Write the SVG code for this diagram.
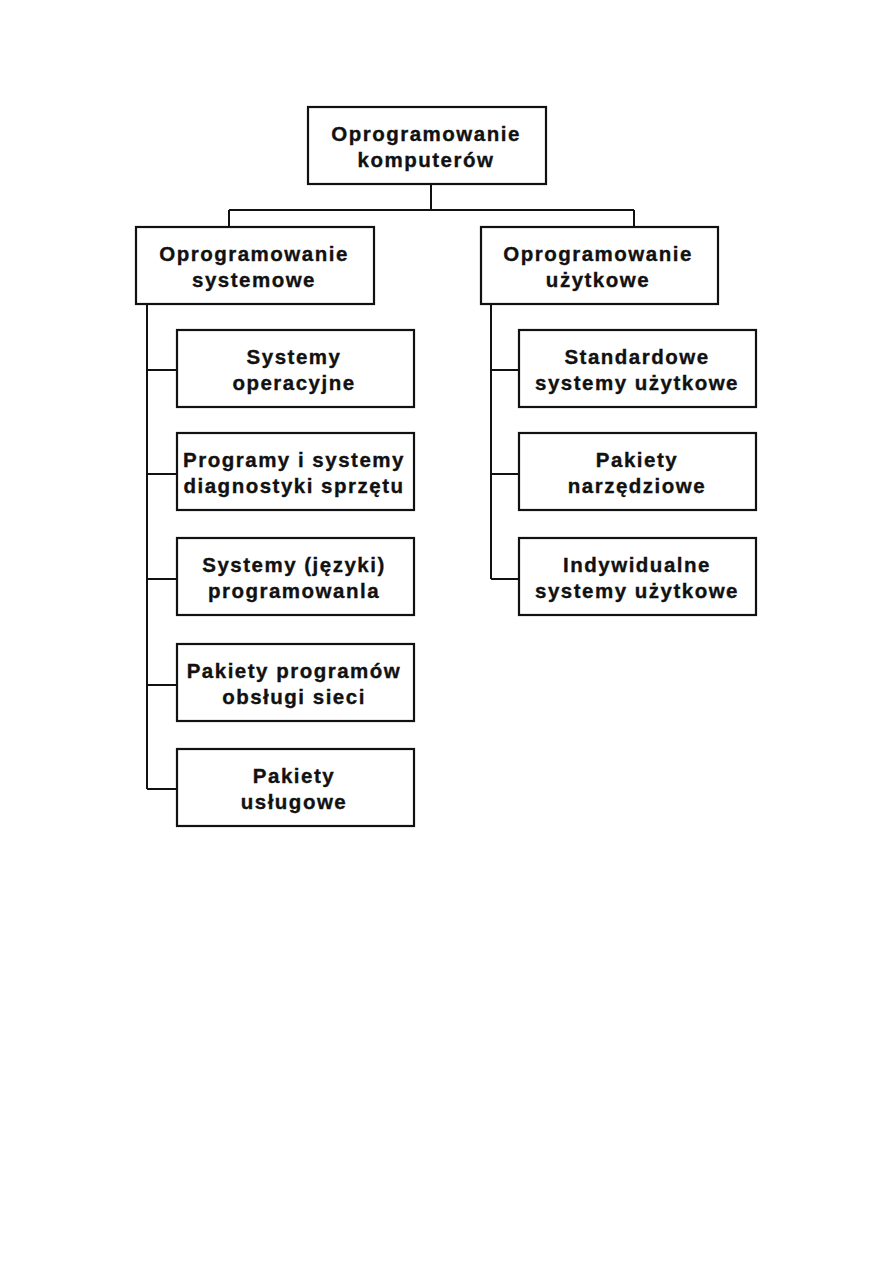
<svg xmlns="http://www.w3.org/2000/svg" width="893" height="1263" viewBox="0 0 893 1263">
<style>
.box{fill:#fff;stroke:#111;stroke-width:2.2}
.ln{fill:none;stroke:#111;stroke-width:2}
text{font-family:"Liberation Sans",Arial,sans-serif;font-weight:bold;font-size:20.5px;letter-spacing:1.5px;fill:#111;stroke:#111;stroke-width:0.35px;text-anchor:middle}
</style>
<rect width="893" height="1263" fill="#fff"/>
<g id="connectors">
<path class="ln" d="M431 184V210M229 210H634M229 210V227M634 210V227"/>
<path class="ln" d="M147 304V789M147 370H177M147 474H177M147 579H177M147 685H177M147 789H177"/>
<path class="ln" d="M491 304V579M491 370H519M491 474H519M491 579H519"/>
</g>
<g id="n-root"><rect class="box" x="308" y="107" width="238" height="77"/><text x="426" y="141">Oprogramowanie</text><text x="426" y="167">komputerów</text></g>
<g id="n-sys"><rect class="box" x="136" y="227" width="238" height="77"/><text x="254" y="261">Oprogramowanie</text><text x="254" y="287">systemowe</text></g>
<g id="n-uzyt"><rect class="box" x="481" y="227" width="237" height="77"/><text x="598" y="261">Oprogramowanie</text><text x="598" y="287">użytkowe</text></g>
<g id="n-s1"><rect class="box" x="177" y="330" width="237" height="77"/><text x="294" y="364">Systemy</text><text x="294" y="390">operacyjne</text></g>
<g id="n-s2"><rect class="box" x="177" y="433" width="237" height="77"/><text x="294" y="467">Programy i systemy</text><text x="294" y="493">diagnostyki sprzętu</text></g>
<g id="n-s3"><rect class="box" x="177" y="538" width="237" height="77"/><text x="294" y="572">Systemy (języki)</text><text x="294" y="598">programowanla</text></g>
<g id="n-s4"><rect class="box" x="177" y="644" width="237" height="77"/><text x="294" y="678">Pakiety programów</text><text x="294" y="704">obsługi sieci</text></g>
<g id="n-s5"><rect class="box" x="177" y="749" width="237" height="77"/><text x="294" y="783">Pakiety</text><text x="294" y="809">usługowe</text></g>
<g id="n-u1"><rect class="box" x="519" y="330" width="237" height="77"/><text x="637" y="364">Standardowe</text><text x="637" y="390">systemy użytkowe</text></g>
<g id="n-u2"><rect class="box" x="519" y="433" width="237" height="77"/><text x="637" y="467">Pakiety</text><text x="637" y="493">narzędziowe</text></g>
<g id="n-u3"><rect class="box" x="519" y="538" width="237" height="77"/><text x="637" y="572">Indywidualne</text><text x="637" y="598">systemy użytkowe</text></g>
</svg>
